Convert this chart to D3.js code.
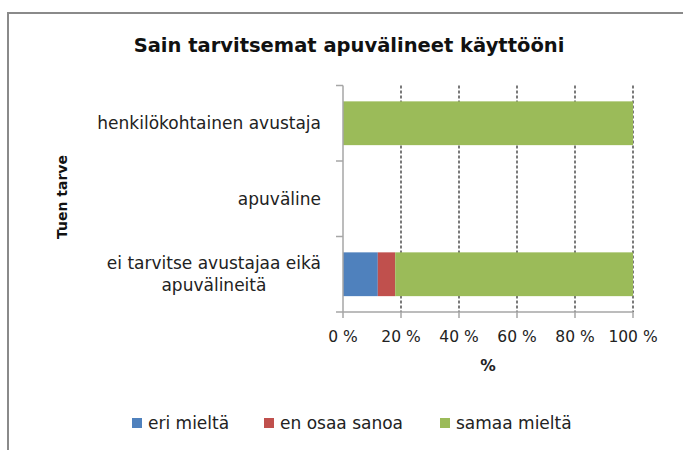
<!DOCTYPE html>
<html><head><meta charset="utf-8">
<script src="https://cdn.jsdelivr.net/npm/d3@7"></script>
<style>body{margin:0;background:#fff}svg{display:block}text{font-family:"DejaVu Sans",sans-serif}</style>
</head><body><svg id="c" width="683" height="450"></svg>
<script>
const title = "Sain tarvitsemat apuvälineet käyttööni";
const categories = ["henkilökohtainen avustaja", "apuväline", "ei tarvitse avustajaa eikä apuvälineitä"];
const seriesNames = ["eri mieltä", "en osaa sanoa", "samaa mieltä"];
const eriMielta = [0, 0, 12];
const enOsaaSanoa = [0, 0, 6];
const samaaMielta = [100, 0, 82];
const xTicks = [0, 20, 40, 60, 80, 100];
const colors = ["#4F81BD", "#C0504D", "#9BBB59"];

const svg = d3.select("#c");
svg.append("path").attr("d","M8,460 L8,13 L700,13").attr("fill","none").attr("stroke","#8a8a8a").attr("stroke-width",2);

const x = d3.scaleLinear().domain([0,100]).range([343,633]);
const y = d3.scaleBand().domain(categories).range([85.5,312]).paddingInner(0.42).paddingOuter(0.21);

svg.append("g").selectAll("line").data(xTicks.slice(1)).join("line")
  .attr("x1",d=>x(d)).attr("x2",d=>x(d)).attr("y1",85.5).attr("y2",312)
  .attr("stroke","#222").attr("stroke-width",1.2).attr("stroke-dasharray","3,2");

const rows = categories.map((c,i)=>({cat:c, v:[eriMielta[i], enOsaaSanoa[i], samaaMielta[i]]}));
const stack = d3.stack().keys([0,1,2]).value((d,k)=>d.v[k]);
const layers = stack(rows);
svg.append("g").selectAll("g").data(layers).join("g").attr("fill",(d,i)=>colors[i])
  .selectAll("rect").data(d=>d.filter(s=>s[1]-s[0]>0)).join("rect")
  .attr("x",d=>x(d[0])).attr("width",d=>x(d[1])-x(d[0]))
  .attr("y",d=>y(d.data.cat)).attr("height",y.bandwidth());

const axCol = "#a6a6a6";
svg.append("line").attr("x1",x(0)).attr("x2",x(0)).attr("y1",85.5).attr("y2",312).attr("stroke",axCol).attr("stroke-width",1.5);
svg.append("line").attr("x1",336).attr("x2",x(100)).attr("y1",312).attr("y2",312).attr("stroke",axCol).attr("stroke-width",1.5);
const step = y.step();
const bounds = [85.5, 85.5+step, 85.5+2*step];
svg.append("g").selectAll("line").data(bounds).join("line")
  .attr("x1",336).attr("x2",343).attr("y1",d=>d).attr("y2",d=>d).attr("stroke",axCol).attr("stroke-width",1.5);
svg.append("g").selectAll("line").data(xTicks).join("line")
  .attr("x1",d=>x(d)).attr("x2",d=>x(d)).attr("y1",312).attr("y2",318).attr("stroke",axCol).attr("stroke-width",1.5);

svg.append("g").selectAll("text").data(xTicks).join("text")
  .attr("x",d=>x(d)).attr("y",342).attr("text-anchor","middle").attr("font-size",15.5).attr("fill","#222")
  .text(d=>d+" %");
svg.append("text").attr("x",488).attr("y",371).attr("text-anchor","middle").attr("font-size",15.5).attr("font-weight","bold").attr("fill","#222").text("%");

const catLines = {"ei tarvitse avustajaa eikä apuvälineitä":["ei tarvitse avustajaa eikä","apuvälineitä"]};
svg.append("g").selectAll("text").data(categories).join("text")
  .attr("font-size",17).attr("fill","#222")
  .each(function(d){
    const lines = catLines[d] || [d];
    const cy = y(d)+y.bandwidth()/2;
    const t = d3.select(this);
    const first = t.append("tspan").attr("x",321).attr("text-anchor","end")
      .attr("y", cy + 6 - (lines.length-1)*11).text(lines[0]);
    if (lines.length>1) {
      const w = first.node().getComputedTextLength();
      t.append("tspan").attr("x",321 - w/2).attr("text-anchor","middle")
        .attr("y", cy + 6 + 11).text(lines[1]);
    }
  });

svg.append("text").attr("transform","translate(67,197) rotate(-90)").attr("text-anchor","middle")
  .attr("font-size",14).attr("font-weight","bold").attr("fill","#111").text("Tuen tarve");

svg.append("text").attr("x",349).attr("y",52).attr("text-anchor","middle").attr("font-size",19.5).attr("font-weight","bold").attr("fill","#111").text(title);

const legX = [132, 264, 440];
const lg = svg.append("g").selectAll("g").data(seriesNames).join("g").attr("transform",(d,i)=>`translate(${legX[i]},0)`);
lg.append("rect").attr("x",0).attr("y",418).attr("width",10).attr("height",10).attr("fill",(d,i)=>colors[i]);
lg.append("text").attr("x",16).attr("y",429).attr("font-size",17).attr("fill","#222").text(d=>d);
</script></body></html>
